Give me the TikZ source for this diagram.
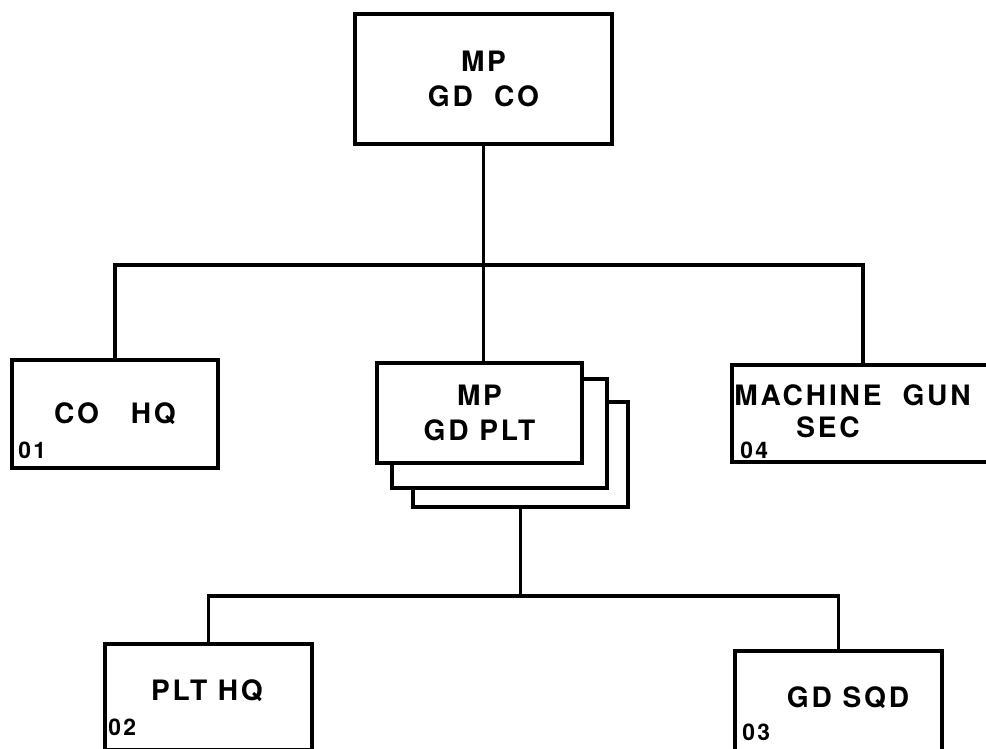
\documentclass[tikz,border=0pt]{standalone}
\usepackage{fontspec}
\setmainfont{TeX Gyre Heros}
\newfontfamily\lettering[LetterSpace=10]{TeX Gyre Heros}
\tikzset{
  unit/.style={draw, line width=2.3pt, fill=white, inner sep=0pt, align=center,
    font=\lettering\bfseries\fontsize{16}{20}\selectfont},
  word/.style={inner sep=0pt, text height=11.5pt, text depth=0pt,
    font=\lettering\bfseries\fontsize{16}{20}\selectfont},
  code/.style={inner sep=0pt, anchor=west, text height=9.3pt, text depth=0pt,
    font=\lettering\bfseries\fontsize{13}{15}\selectfont},
  link/.style={line width=2pt}
}

\begin{document}
\begin{tikzpicture}[x=0.02cm, y=-0.02cm]
    \useasboundingbox (0,0) rectangle (986,748);
    \clip (0,0) rectangle (986,748);
    \coordinate (bar1) at (0,265);
    \coordinate (bar2) at (0,596);

    \node[unit, minimum width=5.14cm, minimum height=2.6cm] (gdco) at (483.5,79) {MP\\GD\ \ CO};
    \node[unit, minimum width=4.12cm, minimum height=2.16cm] (cohq) at (115,414) {CO\ \ \ HQ};
    \node[unit, minimum width=4.3cm, minimum height=2.1cm] (pltc) at (520.5,454.5) {};
    \node[unit, minimum width=4.3cm, minimum height=2.18cm] (pltb) at (499.5,433.5) {};
    \node[unit, minimum width=4.1cm, minimum height=2cm] (plt) at (479.5,413) {MP\\GD PLT};
    \node[unit, minimum width=5.24cm, minimum height=1.94cm] (mgsec) at (863,413.5) {};
    \node[unit, minimum width=4.14cm, minimum height=2.12cm] (plthq) at (208.5,697) {};
    \node[unit, minimum width=4.14cm, minimum height=2.12cm] (gdsqd) at (838.5,704) {};

    \node[word, anchor=west] (mgtext) at (734,395) {MACHINE\hspace{0.42cm}GUN};
    \node[word] (sectext) at (828,427) {SEC};
    \node[word] (plthqtext) at (207,690) {PLT HQ};
    \node[word] (gdsqdtext) at (848,697) {GD\ SQD};

    \node[code] (num01) at (18,450) {01};
    \node[code] (num02) at (108,727) {02};
    \node[code] (num03) at (742,732) {03};
    \node[code] (num04) at (740,450) {04};

    \draw[link] (gdco.south) -- (gdco.south |- plt.north);
    \draw[link] (cohq.north) -- (cohq.north |- bar1) -- (mgsec.north |- bar1) -- (mgsec.north);
    \draw[link] (pltc.south) -- (pltc.south |- bar2);
    \draw[link] (plthq.north) -- (plthq.north |- bar2) -- (gdsqd.north |- bar2) -- (gdsqd.north);
\end{tikzpicture}
\end{document}
